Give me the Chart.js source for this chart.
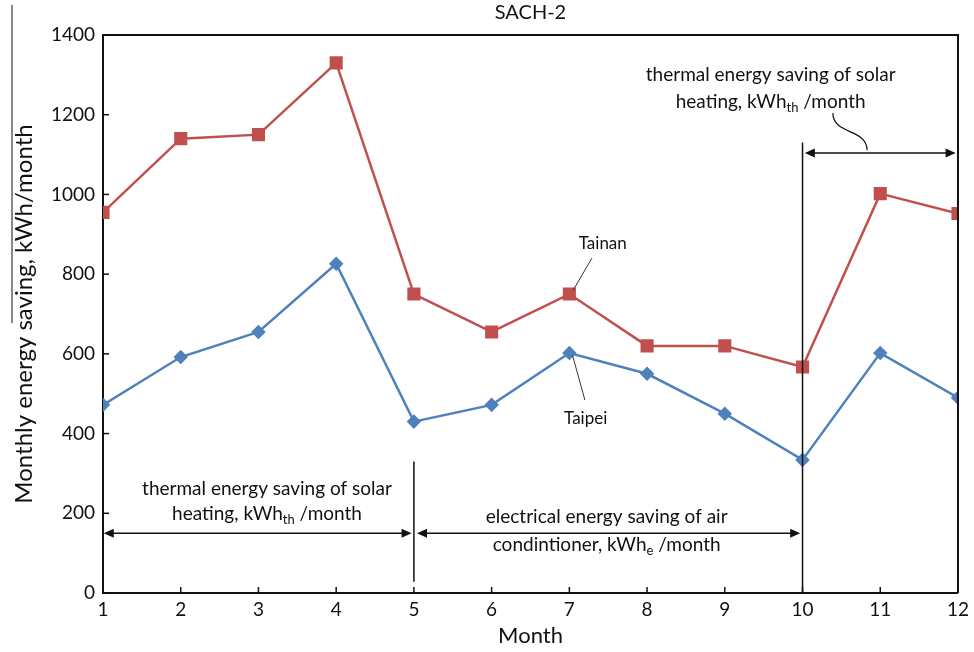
<!DOCTYPE html>
<html lang="en">
<head>
<meta charset="UTF-8" />
<title>SACH-2 monthly energy saving</title>
<script src="https://cdn.jsdelivr.net/npm/chart.js"></script>
<style>
  html, body { margin: 0; padding: 0; background: #fff; }
</style>
</head>
<body>
<canvas id="sachChart" width="974" height="652"></canvas>
<script>
// values
const months = [1, 2, 3, 4, 5, 6, 7, 8, 9, 10, 11, 12];
const tainan = [955, 1140, 1150, 1330, 750, 655, 750, 620, 620, 567, 1002, 952];
const taipei = [472, 592, 655, 826, 430, 472, 602, 550, 450, 334, 602, 490];
const yTicks = [0, 200, 400, 600, 800, 1000, 1200, 1400];

const FONT = 'Lato, "Open Sans", sans-serif';
const INK = '#111';

// annotation bits, in data units (month, kWh)
const dividers = [
    { x: 5, from: 28, to: 330 },
    { x: 10, from: 0, to: 1130 }
];
const spans = [
    { from: 1.01, to: 4.97, y: 150 },
    { from: 5.04, to: 9.97, y: 150 },
    { from: 10.03, to: 11.97, y: 1104 }
];
const notes = [
    { x: 3.11, y: 261, parts: [{ t: 'thermal energy saving of solar' }] },
    { x: 3.11, y: 198, parts: [{ t: 'heating, kWh' }, { t: 'th', sub: true }, { t: ' /month' }] },
    { x: 7.48, y: 191, parts: [{ t: 'electrical energy saving of air' }] },
    { x: 7.48, y: 120, parts: [{ t: 'condintioner, kWh' }, { t: 'e', sub: true }, { t: ' /month' }] },
    { x: 9.59, y: 1300, parts: [{ t: 'thermal energy saving of solar' }] },
    { x: 9.59, y: 1232, parts: [{ t: 'heating, kWh' }, { t: 'th', sub: true }, { t: ' /month' }] }
];
const seriesLabels = [
    { text: 'Tainan', x: 7.43, y: 876, lead: [7.29, 840, 7.05, 760] },
    { text: 'Taipei', x: 7.21, y: 439, lead: [7.20, 484, 7.04, 597] }
];

function drawRich(ctx, parts, cx, cy, size) {
    const fontOf = p => (p.sub ? Math.round(size * 0.7) : size) + 'px ' + FONT;
    const widths = parts.map(p => { ctx.font = fontOf(p); return ctx.measureText(p.t).width; });
    let x = cx - widths.reduce((a, b) => a + b, 0) / 2;
    parts.forEach((p, i) => {
        ctx.font = fontOf(p);
        ctx.fillText(p.t, x, cy + (p.sub ? size * 0.3 : 0));
        x += widths[i];
    });
}

function arrowHead(ctx, x, y, dir) {
    ctx.beginPath();
    ctx.moveTo(x, y);
    ctx.lineTo(x - dir * 10, y - 4.5);
    ctx.lineTo(x - dir * 10, y + 4.5);
    ctx.closePath();
    ctx.fill();
}

const decorations = {
    id: 'decorations',
    afterDatasetsDraw(chart) {
        const { ctx, chartArea: a, scales: { x, y } } = chart;
        ctx.save();
        ctx.strokeStyle = INK;
        ctx.fillStyle = INK;

        // frame top + right
        ctx.lineWidth = 2;
        ctx.beginPath();
        ctx.moveTo(a.left, a.top);
        ctx.lineTo(a.right, a.top);
        ctx.lineTo(a.right, a.bottom);
        ctx.stroke();

        // inward tick marks
        ctx.lineWidth = 1.5;
        x.ticks.forEach(t => {
            const px = x.getPixelForValue(t.value);
            ctx.beginPath(); ctx.moveTo(px, a.bottom); ctx.lineTo(px, a.bottom - 6); ctx.stroke();
        });
        y.ticks.forEach(t => {
            const py = y.getPixelForValue(t.value);
            ctx.beginPath(); ctx.moveTo(a.left, py); ctx.lineTo(a.left + 6, py); ctx.stroke();
        });

        // period dividers
        ctx.lineWidth = 1.5;
        dividers.forEach(d => {
            const px = x.getPixelForValue(d.x);
            ctx.beginPath();
            ctx.moveTo(px, y.getPixelForValue(d.from));
            ctx.lineTo(px, y.getPixelForValue(d.to));
            ctx.stroke();
        });

        // double arrows
        spans.forEach(s => {
            const x0 = x.getPixelForValue(s.from), x1 = x.getPixelForValue(s.to), py = y.getPixelForValue(s.y);
            ctx.lineWidth = 1.5;
            ctx.beginPath(); ctx.moveTo(x0 + 4, py); ctx.lineTo(x1 - 4, py); ctx.stroke();
            arrowHead(ctx, x0, py, -1);
            arrowHead(ctx, x1, py, 1);
        });

        // squiggle pointing at the last span
        ctx.lineWidth = 1.2;
        ctx.beginPath();
        ctx.moveTo(x.getPixelForValue(10.39), y.getPixelForValue(1204));
        ctx.bezierCurveTo(x.getPixelForValue(10.39), y.getPixelForValue(1149),
            x.getPixelForValue(10.83), y.getPixelForValue(1166),
            x.getPixelForValue(10.83), y.getPixelForValue(1111));
        ctx.stroke();

        // text notes
        ctx.textAlign = 'left';
        ctx.textBaseline = 'middle';
        notes.forEach(n => drawRich(ctx, n.parts, x.getPixelForValue(n.x), y.getPixelForValue(n.y), 19));

        // series labels with leader lines
        ctx.lineWidth = 1;
        ctx.strokeStyle = '#333';
        seriesLabels.forEach(l => {
            ctx.beginPath();
            ctx.moveTo(x.getPixelForValue(l.lead[0]), y.getPixelForValue(l.lead[1]));
            ctx.lineTo(x.getPixelForValue(l.lead[2]), y.getPixelForValue(l.lead[3]));
            ctx.stroke();
            ctx.textAlign = 'center';
            ctx.font = '17px ' + FONT;
            ctx.fillText(l.text, x.getPixelForValue(l.x), y.getPixelForValue(l.y));
        });

        // stray rule at the far left of the scanned figure
        ctx.lineWidth = 1;
        ctx.strokeStyle = INK;
        ctx.beginPath(); ctx.moveTo(12, 5); ctx.lineTo(12, 323); ctx.stroke();
        ctx.restore();
    }
};

new Chart(document.getElementById('sachChart'), {
    type: 'line',
    data: {
        datasets: [
            {
                label: 'Tainan',
                data: months.map((m, i) => ({ x: m, y: tainan[i] })),
                borderColor: '#C0504D',
                backgroundColor: '#C0504D',
                borderWidth: 2.5,
                pointStyle: 'rect',
                pointRadius: 7.5,
                tension: 0
            },
            {
                label: 'Taipei',
                data: months.map((m, i) => ({ x: m, y: taipei[i] })),
                borderColor: '#4F81BD',
                backgroundColor: '#4F81BD',
                borderWidth: 2.5,
                pointStyle: 'rectRot',
                pointRadius: 5.5,
                tension: 0
            }
        ]
    },
    options: {
        responsive: false,
        animation: false,
        layout: { padding: { top: 0, right: 16, left: 0, bottom: 0 } },
        plugins: {
            legend: { display: false },
            tooltip: { enabled: false },
            title: {
                display: true,
                text: 'SACH-2',
                fullSize: false,
                color: INK,
                font: { family: FONT, size: 20, weight: 'normal' },
                padding: { top: 1, bottom: 10 }
            }
        },
        scales: {
            x: {
                type: 'linear',
                min: 1,
                max: 12,
                afterBuildTicks: s => { s.ticks = months.map(v => ({ value: v })); },
                ticks: { color: INK, font: { family: FONT, size: 19 }, padding: 5, callback: v => String(v) },
                grid: { display: false, drawTicks: false },
                border: { display: true, color: INK, width: 2 },
                title: { display: true, text: 'Month', color: INK, font: { family: FONT, size: 22 }, padding: { top: 0, bottom: 3 } },
                afterFit: s => { s.height = 59; }
            },
            y: {
                min: 0,
                max: 1400,
                afterBuildTicks: s => { s.ticks = yTicks.map(v => ({ value: v })); },
                ticks: { color: INK, font: { family: FONT, size: 19 }, padding: 8, callback: v => String(v) },
                grid: { display: false, drawTicks: false },
                border: { display: true, color: INK, width: 2 },
                title: { display: true, text: 'Monthly energy saving, kWh/month', color: INK, font: { family: FONT, size: 24 }, padding: { top: 10, bottom: 0 } },
                afterFit: s => { s.width = 103; }
            }
        }
    },
    plugins: [decorations]
});
</script>
</body>
</html>
